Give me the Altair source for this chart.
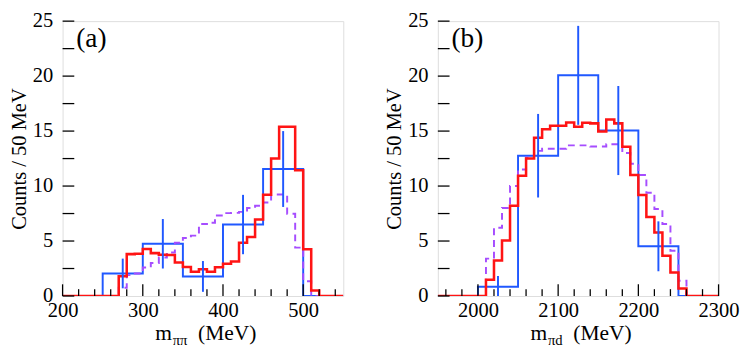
import altair as alt
import pandas as pd

# ---------------- panel (a): m_pipi ----------------
a_xrange = [200, 550]
# data (blue), 50 MeV bins starting at 250
a_data_start, a_data_width = 250, 50
a_data_vals = [2.05, 4.75, 1.78, 6.5, 11.55]
a_data_errs = [1.35, 2.25, 1.4, 2.7, 3.45]
# red model, 10 MeV bins starting at 270
a_red_start, a_red_width = 270, 10
a_red_vals = [1.8, 3.81, 3.84, 4.28, 3.9, 3.76, 3.73, 3.05, 2.64, 2.2,
              2.43, 2.2, 2.61, 2.93, 3.14, 4.84, 5.37, 6.95, 9.2, 12.5,
              15.4, 15.4, 11.44, 4.25, 0.5]
# purple dashed model, 10 MeV bins starting at 270
a_pur_start, a_pur_width = 270, 10
a_pur_vals = [0.75, 1.9, 2.05, 2.6, 3.0, 3.5, 3.96, 4.84, 5.28, 5.49,
              6.54, 6.66, 7.33, 7.54, 7.56, 7.65, 8.0, 8.2, 8.5, 9.24,
              9.24, 7.48, 4.4, 1.35]
a_xlabels = [200, 300, 400, 500]
a_xminor = [220, 240, 260, 280, 320, 340, 360, 380, 420, 440, 460, 480, 520, 540]

# ---------------- panel (b): m_pid ----------------
b_xrange = [1950, 2300]
b_data_start, b_data_width = 2000, 50
b_data_vals = [0.85, 12.76, 20.07, 15.05, 4.52]
b_data_errs = [0.97, 3.8, 4.5, 4.05, 2.27]
b_red_start, b_red_width = 2010, 10
b_red_vals = [1.47, 3.23, 5.05, 8.21, 10.94, 12.5, 14.4, 15.17, 15.49, 15.49,
              15.79, 15.4, 15.76, 15.7, 14.96, 16.05, 15.7, 13.58, 11.0, 9.18,
              7.19, 5.78, 3.67, 2.14, 0.68]
b_pur_start, b_pur_width = 2010, 10
b_pur_vals = [3.4, 6.2, 8.0, 10.0, 11.5, 12.6, 13.2, 13.4, 13.4, 13.4,
              13.7, 13.7, 13.7, 13.6, 13.6, 13.8, 13.8, 13.0, 12.03, 11.0,
              9.4, 7.92, 6.54, 4.11, 1.38]
b_xlabels = [2000, 2100, 2200, 2300]
b_xminor = [1960, 1980, 2020, 2040, 2060, 2080, 2120, 2140, 2160, 2180,
            2220, 2240, 2260, 2280]

y_labels = [0, 5, 10, 15, 20, 25]
y_minor = [2.5, 7.5, 12.5, 17.5, 22.5]

RED = "#ff1414"
BLUE = "#2058ff"
PURPLE = "#a64dff"
FONT = "Times New Roman, Liberation Serif, DejaVu Serif, serif"
W, H = 288, 282


def step_frame(start, width, vals, xr):
    xs = [xr[0]] + [start + i * width for i in range(len(vals))] + \
         [start + len(vals) * width, xr[1]]
    ys = [0.0] + list(vals) + [0.0, 0.0]
    return pd.DataFrame({"x": xs, "y": ys, "o": list(range(len(xs)))})


def err_frame(start, width, vals, errs):
    rows = []
    for i, (v, e) in enumerate(zip(vals, errs)):
        rows.append({"x": start + (i + 0.5) * width,
                     "lo": max(0.0, v - e), "hi": min(25.0, v + e)})
    return pd.DataFrame(rows)


def panel(xr, d_start, d_w, d_vals, d_errs, r_start, r_w, r_vals,
          p_start, p_w, p_vals, xlabels, xminor, tag, sub):
    xs = alt.Scale(domain=xr, nice=False, zero=False)
    ys = alt.Scale(domain=[0, 25], nice=False, zero=True)
    xax = alt.Axis(values=xlabels, ticks=False, domain=False, grid=False,
                   format="d",
                   labelFont=FONT, labelFontSize=21, labelColor="black",
                   labelPadding=4, labelFlush=False, title=None)
    yax = alt.Axis(values=y_labels, ticks=False, domain=False, grid=False,
                   format="d",
                   labelFont=FONT, labelFontSize=21, labelColor="black",
                   labelPadding=10, labelFlush=False,
                   title="Counts / 50 MeV", titleFont=FONT, titleFontSize=21,
                   titleFontWeight="normal", titleColor="black", titlePadding=3)

    def hist(df, color, dash=None, sw=2.0):
        kw = dict(interpolate="step-after", color=color, strokeWidth=sw,
                  clip=True)
        if dash:
            kw["strokeDash"] = dash
        return alt.Chart(df).mark_line(**kw).encode(
            x=alt.X("x:Q", scale=xs, axis=xax),
            y=alt.Y("y:Q", scale=ys, axis=yax),
            order="o:Q")

    blue = hist(step_frame(d_start, d_w, d_vals, xr), BLUE, sw=2.0)
    pur = hist(step_frame(p_start, p_w, p_vals, xr), PURPLE, dash=[7, 5], sw=2.0)
    red = hist(step_frame(r_start, r_w, r_vals, xr), RED, sw=2.6)
    errs = alt.Chart(err_frame(d_start, d_w, d_vals, d_errs)).mark_rule(
        color=BLUE, strokeWidth=2.0).encode(
        x=alt.X("x:Q", scale=xs), y=alt.Y("lo:Q", scale=ys), y2="hi:Q")

    xt_major = alt.Chart(pd.DataFrame({"t": xlabels})).mark_rule(
        color="black", strokeWidth=1.3).encode(
        x=alt.X("t:Q", scale=xs), y=alt.value(H), y2=alt.value(H - 12))
    xt_minor = alt.Chart(pd.DataFrame({"t": xminor})).mark_rule(
        color="black", strokeWidth=1.3).encode(
        x=alt.X("t:Q", scale=xs), y=alt.value(H), y2=alt.value(H - 7))
    yt_major = alt.Chart(pd.DataFrame({"t": y_labels})).mark_rule(
        color="black", strokeWidth=1.3).encode(
        y=alt.Y("t:Q", scale=ys), x=alt.value(0), x2=alt.value(12))
    yt_minor = alt.Chart(pd.DataFrame({"t": y_minor})).mark_rule(
        color="black", strokeWidth=1.3).encode(
        y=alt.Y("t:Q", scale=ys), x=alt.value(0), x2=alt.value(12))

    lab = alt.Chart(pd.DataFrame({"t": [tag]})).mark_text(
        font=FONT, fontSize=28, align="left", baseline="middle",
        color="black").encode(text="t:N", x=alt.value(14), y=alt.value(19))

    t_m = alt.Chart(pd.DataFrame({"t": ["m"]})).mark_text(
        font=FONT, fontSize=22, align="left", baseline="alphabetic",
        color="black").encode(text="t:N", x=alt.value(95), y=alt.value(H + 45))
    t_sub = alt.Chart(pd.DataFrame({"t": [sub]})).mark_text(
        font=FONT, fontSize=15, align="left", baseline="alphabetic",
        color="black").encode(text="t:N", x=alt.value(113), y=alt.value(H + 50))
    t_mev = alt.Chart(pd.DataFrame({"t": ["(MeV)"]})).mark_text(
        font=FONT, fontSize=22, align="left", baseline="alphabetic",
        color="black").encode(text="t:N", x=alt.value(139), y=alt.value(H + 45))

    return alt.layer(blue, pur, red, errs, xt_major, xt_minor, yt_major,
                     yt_minor, lab, t_m, t_sub, t_mev).properties(
        width=W, height=H)


left = panel(a_xrange, a_data_start, a_data_width, a_data_vals, a_data_errs,
             a_red_start, a_red_width, a_red_vals,
             a_pur_start, a_pur_width, a_pur_vals,
             a_xlabels, a_xminor, "(a)", "\u03c0\u03c0")
right = panel(b_xrange, b_data_start, b_data_width, b_data_vals, b_data_errs,
              b_red_start, b_red_width, b_red_vals,
              b_pur_start, b_pur_width, b_pur_vals,
              b_xlabels, b_xminor, "(b)", "\u03c0d")

chart = alt.hconcat(left, right, spacing=40).properties(
    padding={"left": 0, "top": -3, "right": 0, "bottom": 0}
).configure_view(stroke="black", strokeWidth=1.5).configure(
    background="white", font=FONT)

chart.save("out.html", embed_options={"renderer": "svg", "actions": False})
